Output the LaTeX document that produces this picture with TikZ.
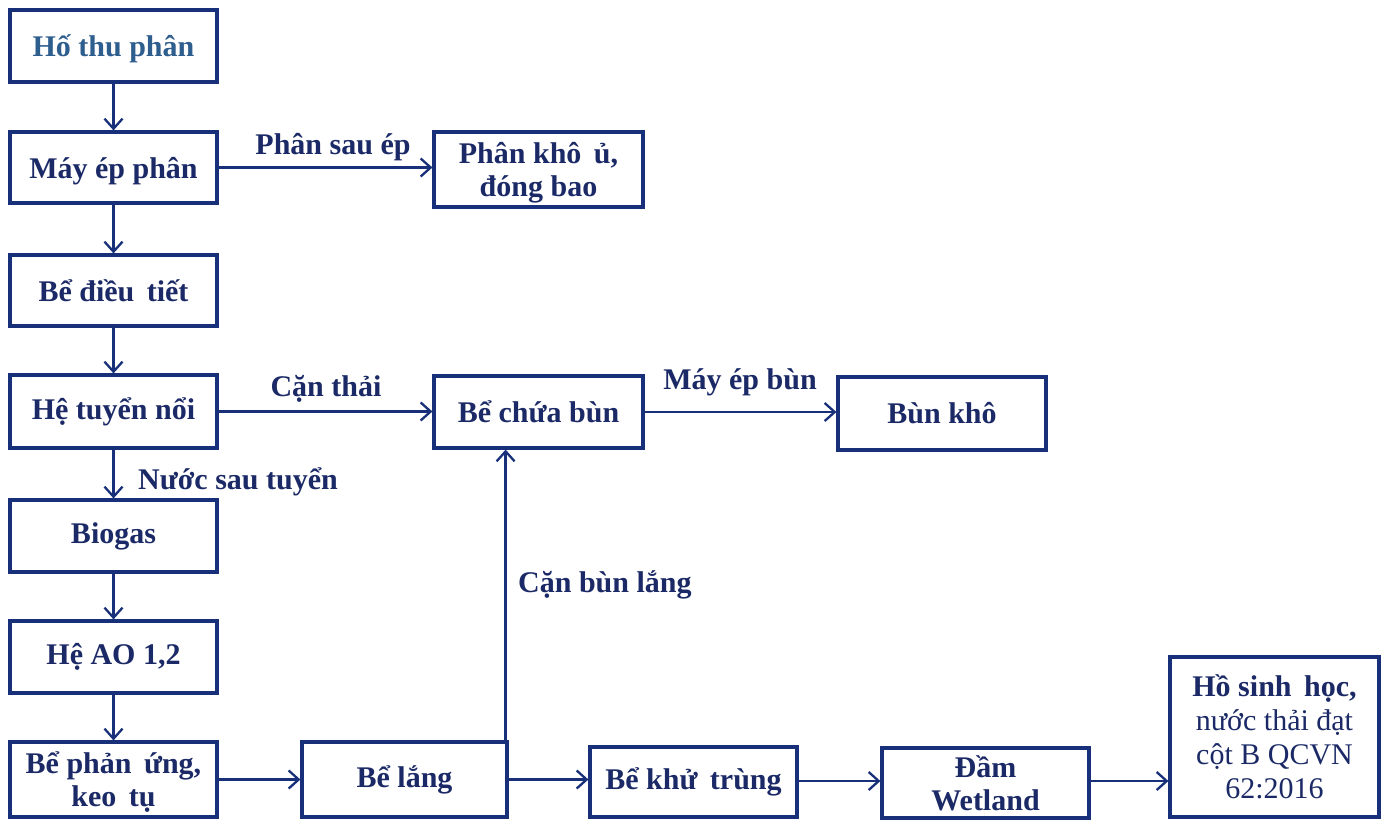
\documentclass[tikz,border=0pt]{standalone}
\usepackage{fontspec}
\setmainfont{Liberation Serif}
\usetikzlibrary{arrows.meta}
\definecolor{bord}{HTML}{18307A}
\definecolor{txt}{HTML}{1B2A66}
\definecolor{txtA}{HTML}{2E5E8E}
\tikzset{
  box/.style={draw=bord, line width=3.2pt, fill=white, text=txt, align=center,
    inner sep=0pt, font=\fontsize{30}{33}\selectfont\bfseries},
  lower/.style={text depth=0pt},
  arr/.style={draw=bord, line width=2.3pt, -{Straight Barb[length=10pt,width=18pt]}},
  lbl/.style={text=txt, inner sep=0pt, font=\fontsize{30}{33}\selectfont\bfseries},
}
\begin{document}
\begin{tikzpicture}[x=1pt,y=-1pt]
\useasboundingbox[fill=white] (0,0) rectangle (1384,820);
% boxes
\node[box, lower, text=txtA, minimum width=207pt, minimum height=72pt] (hofu) at (113.5,46) {Hố thu phân};
\node[box, lower, minimum width=207pt, minimum height=71pt] (mayep) at (113.5,167.5) {Máy ép phân};
\node[box, lower, minimum width=209pt, minimum height=75pt] (phankho) at (538.5,169.5) {Phân khô \,ủ,\\đóng bao};
\node[box, minimum width=207pt, minimum height=71pt] (dieutiet) at (113.5,290.5) {Bể điều \,tiết};
\node[box, minimum width=207pt, minimum height=73pt] (tuyen) at (113.5,411.5) {Hệ tuyển nổi};
\node[box, minimum width=209pt, minimum height=72pt] (chuabun) at (538.5,412) {Bể chứa bùn};
\node[box, minimum width=208pt, minimum height=73pt] (bunkho) at (942,413.5) {Bùn khô};
\node[box, minimum width=207pt, minimum height=72pt] (biogas) at (113.5,536) {Biogas};
\node[box, minimum width=207pt, minimum height=72pt] (ao) at (113.5,657) {Hệ AO 1,2};
\node[box, lower, minimum width=207pt, minimum height=75pt] (phanung) at (113.5,779.5) {Bể phản \,ứng,\\keo \,tụ};
\node[box, minimum width=205pt, minimum height=75pt] (belang) at (404.5,779.5) {Bể lắng};
\node[box, minimum width=207pt, minimum height=70pt] (khutrung) at (693.5,782) {Bể khử \,trùng};
\node[box, minimum width=207pt, minimum height=70pt] (dam) at (985.5,783) {Đầm\\Wetland};
\node[box, minimum width=209pt, minimum height=160pt, font=\fontsize{30}{34}\selectfont] (ho) at (1274.5,737) {\textbf{Hồ sinh \,học,}\\nước thải đạt\\cột B QCVN\\62:2016};
% labels
\node[lbl] (l1) at (333,147) {Phân sau ép};
\node[lbl] (l2) at (326,389) {Cặn thải};
\node[lbl] (l3) at (740,382) {Máy ép bùn};
\node[lbl, anchor=west] (l4) at (138,482) {Nước sau tuyển};
\node[lbl, anchor=west] (l5) at (518,585) {Cặn bùn lắng};
% arrows
\draw[arr] (hofu) -- (mayep);
\draw[arr] (mayep) -- (dieutiet);
\draw[arr] (dieutiet) -- (tuyen);
\draw[arr] (tuyen) -- (biogas);
\draw[arr] (biogas) -- (ao);
\draw[arr] (ao) -- (phanung);
\draw[arr] (mayep.east) -- (mayep.east -| phankho.west);
\draw[arr] (tuyen.east) -- (tuyen.east -| chuabun.west);
\draw[arr] (chuabun.east) -- (chuabun.east -| bunkho.west);
\draw[arr] (phanung.east) -- (phanung.east -| belang.west);
\draw[arr] ([xshift=-3pt]belang.north east) -- ([xshift=-3pt]belang.north east |- chuabun.south);
\draw[arr] (belang.east) -- (belang.east -| khutrung.west);
\draw[arr] ([yshift=1pt]khutrung.east) -- ([yshift=1pt]khutrung.east -| dam.west);
\draw[arr] ([yshift=2pt]dam.east) -- ([yshift=2pt]dam.east -| ho.west);
\end{tikzpicture}
\end{document}
